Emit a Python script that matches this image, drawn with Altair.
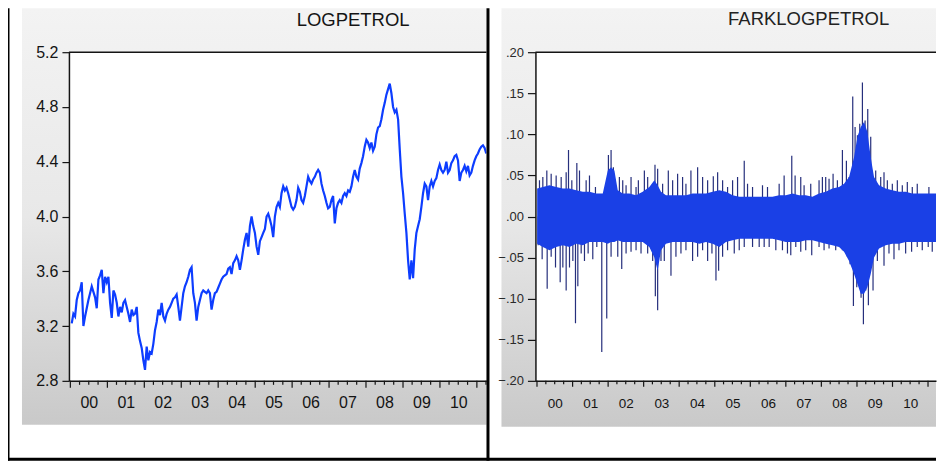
import altair as alt
import numpy as np
import pandas as pd

# ---------------- data ----------------
# LOGPETROL, one reading every ~16.5 days starting early January 2000
LOGPETROL = [
    3.22, 3.29, 3.27, 3.39, 3.44, 3.46, 3.52, 3.20, 3.27, 3.33,
    3.39, 3.44, 3.49, 3.45, 3.41, 3.33, 3.54, 3.57, 3.61, 3.44,
    3.56, 3.52, 3.56, 3.37, 3.26, 3.46, 3.43, 3.37, 3.27, 3.34,
    3.30, 3.37, 3.39, 3.34, 3.29, 3.23, 3.32, 3.28, 3.29, 3.34,
    3.15, 3.09, 3.04, 2.95, 2.88, 3.05, 2.95, 3.01, 3.00, 3.07,
    3.17, 3.23, 3.32, 3.28, 3.37, 3.27, 3.24, 3.29, 3.32, 3.34,
    3.37, 3.40, 3.41, 3.43, 3.34, 3.24, 3.34, 3.44, 3.49, 3.52,
    3.56, 3.61, 3.63, 3.44, 3.37, 3.24, 3.34, 3.39, 3.44, 3.46,
    3.45, 3.44, 3.46, 3.44, 3.32, 3.39, 3.44, 3.45, 3.48, 3.51,
    3.54, 3.56, 3.57, 3.58, 3.62, 3.63, 3.58, 3.66, 3.68, 3.71,
    3.68, 3.61, 3.68, 3.76, 3.83, 3.88, 3.78, 3.93, 4.00, 3.93,
    3.88, 3.78, 3.72, 3.82, 3.85, 3.88, 3.91, 4.00, 4.02, 3.98,
    3.93, 3.85, 4.00, 4.07, 4.10, 4.07, 4.17, 4.22, 4.19, 4.21,
    4.17, 4.12, 4.07, 4.05, 4.07, 4.12, 4.21, 4.18, 4.12, 4.10,
    4.15, 4.22, 4.29, 4.26, 4.24, 4.27, 4.29, 4.32, 4.34, 4.32,
    4.24, 4.19, 4.15, 4.10, 4.06, 4.07, 4.12, 4.15, 3.95, 4.06,
    4.10, 4.12, 4.10, 4.15, 4.17, 4.15, 4.19, 4.18, 4.22, 4.29,
    4.34, 4.29, 4.27, 4.35, 4.39, 4.44, 4.51, 4.56, 4.54, 4.50,
    4.54, 4.48, 4.51, 4.60, 4.65, 4.66, 4.71, 4.78, 4.83, 4.89,
    4.93, 4.97, 4.90, 4.80, 4.76, 4.78, 4.71, 4.49, 4.29, 4.17,
    4.02, 3.88, 3.68, 3.54, 3.68, 3.55, 3.76, 3.88, 3.93, 3.98,
    4.07, 4.17, 4.24, 4.22, 4.12, 4.22, 4.26, 4.22, 4.26, 4.28,
    4.34, 4.38, 4.34, 4.32, 4.34, 4.40, 4.32, 4.34, 4.39, 4.41,
    4.44, 4.45, 4.41, 4.26, 4.32, 4.34, 4.37, 4.33, 4.37, 4.30,
    4.32, 4.37, 4.41, 4.44, 4.46, 4.49, 4.51, 4.52, 4.50, 4.46,
]
LOG_FIRST_YEAR = 2000.037   # decimal year of the first reading
LOG_STEP_YEAR = 0.04505     # spacing of the readings, in years

# FARKLOGPETROL: envelope of the dense daily band
BAND_YEARS = [
    2000.005, 2000.164, 2000.351, 2000.538, 2000.726, 2000.913, 2001.100, 2001.287, 2001.475, 2001.662,
    2001.849, 2001.990, 2002.083, 2002.177, 2002.271, 2002.411, 2002.598, 2002.786, 2002.973, 2003.160,
    2003.301, 2003.394, 2003.488, 2003.628, 2003.816, 2004.003, 2004.190, 2004.377, 2004.565, 2004.752,
    2004.939, 2005.126, 2005.314, 2005.501, 2005.688, 2005.875, 2006.063, 2006.250, 2006.437, 2006.624,
    2006.812, 2006.999, 2007.186, 2007.373, 2007.560, 2007.748, 2007.935, 2008.122, 2008.310, 2008.497,
    2008.637, 2008.778, 2008.918, 2009.012, 2009.106, 2009.199, 2009.293, 2009.387, 2009.480, 2009.621,
    2009.808, 2009.995, 2010.183, 2010.370, 2010.557, 2010.744, 2010.931, 2011.119, 2011.306, 2011.447,
]
BAND_UPPER = [
    0.034, 0.036, 0.038, 0.036, 0.034, 0.034, 0.032, 0.030, 0.030, 0.028,
    0.028, 0.056, 0.060, 0.056, 0.032, 0.028, 0.028, 0.026, 0.030, 0.036,
    0.044, 0.038, 0.030, 0.026, 0.026, 0.026, 0.026, 0.028, 0.028, 0.028,
    0.030, 0.032, 0.030, 0.026, 0.024, 0.024, 0.024, 0.024, 0.024, 0.024,
    0.026, 0.026, 0.028, 0.026, 0.026, 0.024, 0.028, 0.030, 0.034, 0.036,
    0.040, 0.048, 0.072, 0.097, 0.109, 0.115, 0.103, 0.072, 0.048, 0.038,
    0.034, 0.032, 0.030, 0.030, 0.028, 0.028, 0.028, 0.028, 0.028, 0.028,
]
BAND_LOWER = [
    -0.033, -0.037, -0.041, -0.037, -0.035, -0.037, -0.033, -0.035, -0.031, -0.031,
    -0.031, -0.033, -0.031, -0.031, -0.029, -0.031, -0.031, -0.031, -0.031, -0.037,
    -0.050, -0.066, -0.041, -0.033, -0.031, -0.031, -0.031, -0.031, -0.033, -0.031,
    -0.033, -0.037, -0.031, -0.029, -0.027, -0.027, -0.027, -0.027, -0.027, -0.027,
    -0.029, -0.031, -0.031, -0.031, -0.029, -0.029, -0.031, -0.033, -0.035, -0.037,
    -0.043, -0.054, -0.070, -0.082, -0.094, -0.094, -0.086, -0.070, -0.050, -0.039,
    -0.035, -0.033, -0.033, -0.031, -0.031, -0.031, -0.031, -0.031, -0.031, -0.031,
]

# FARKLOGPETROL: individual spikes sticking out of the band
SPIKE_UP_YEARS = [
    2000.070, 2000.164, 2000.276, 2000.398, 2000.538, 2000.679, 2000.819, 2000.885, 2000.978, 2001.119,
    2001.194, 2001.381, 2001.475, 2001.643, 2002.008, 2002.083, 2002.148, 2002.317, 2002.411, 2002.505,
    2002.645, 2002.786, 2002.851, 2003.020, 2003.113, 2003.319, 2003.394, 2003.534, 2003.694, 2003.816,
    2003.956, 2004.096, 2004.190, 2004.330, 2004.518, 2004.658, 2004.799, 2004.958, 2005.080, 2005.220,
    2005.360, 2005.501, 2005.641, 2005.829, 2005.922, 2006.063, 2006.343, 2006.484, 2006.812, 2006.952,
    2007.167, 2007.261, 2007.420, 2007.514, 2007.701, 2007.935, 2008.029, 2008.122, 2008.216, 2008.329,
    2008.450, 2008.591, 2008.703, 2008.778, 2008.881, 2008.947, 2009.012, 2009.078, 2009.153, 2009.228,
    2009.303, 2009.387, 2009.527, 2009.668, 2009.761, 2009.855, 2009.995, 2010.136, 2010.276, 2010.417,
    2010.557, 2010.697, 2011.025, 2011.325, 2011.400,
]
SPIKE_UP_VALUES = [
    0.044, 0.048, 0.056, 0.052, 0.050, 0.048, 0.054, 0.081, 0.044, 0.065,
    0.056, 0.044, 0.050, 0.036, 0.075, 0.081, 0.060, 0.048, 0.044, 0.038,
    0.048, 0.036, 0.044, 0.056, 0.048, 0.063, 0.058, 0.040, 0.056, 0.044,
    0.052, 0.048, 0.040, 0.056, 0.060, 0.048, 0.044, 0.049, 0.054, 0.044,
    0.036, 0.044, 0.048, 0.068, 0.040, 0.036, 0.038, 0.036, 0.040, 0.050,
    0.074, 0.050, 0.048, 0.038, 0.040, 0.044, 0.048, 0.048, 0.046, 0.052,
    0.044, 0.081, 0.068, 0.048, 0.146, 0.109, 0.099, 0.113, 0.163, 0.117,
    0.131, 0.097, 0.056, 0.048, 0.054, 0.044, 0.040, 0.044, 0.038, 0.042,
    0.036, 0.040, 0.036, 0.082, 0.040,
]
SPIKE_DN_YEARS = [
    2000.033, 2000.145, 2000.286, 2000.398, 2000.520, 2000.651, 2000.726, 2000.819, 2000.913, 2001.007,
    2001.081, 2001.147, 2001.241, 2001.334, 2001.437, 2001.568, 2001.681, 2001.821, 2001.961, 2002.083,
    2002.271, 2002.383, 2002.505, 2002.645, 2002.786, 2002.926, 2003.113, 2003.254, 2003.329, 2003.394,
    2003.488, 2003.581, 2003.769, 2003.909, 2004.050, 2004.190, 2004.377, 2004.518, 2004.658, 2004.799,
    2004.920, 2005.033, 2005.108, 2005.220, 2005.360, 2005.548, 2005.688, 2005.829, 2006.063, 2006.250,
    2006.390, 2006.531, 2006.718, 2006.905, 2007.046, 2007.139, 2007.280, 2007.420, 2007.560, 2007.729,
    2007.935, 2008.076, 2008.216, 2008.403, 2008.591, 2008.731, 2008.806, 2008.900, 2008.994, 2009.040,
    2009.115, 2009.181, 2009.247, 2009.321, 2009.452, 2009.574, 2009.761, 2009.901, 2010.042, 2010.183,
    2010.370, 2010.538, 2010.697, 2010.838, 2011.006, 2011.119, 2011.259, 2011.400,
]
SPIKE_DN_VALUES = [
    -0.035, -0.052, -0.088, -0.049, -0.062, -0.080, -0.062, -0.090, -0.062, -0.054,
    -0.130, -0.085, -0.045, -0.054, -0.045, -0.052, -0.037, -0.165, -0.124, -0.049,
    -0.049, -0.064, -0.045, -0.043, -0.041, -0.045, -0.045, -0.054, -0.097, -0.114,
    -0.054, -0.054, -0.072, -0.049, -0.045, -0.041, -0.054, -0.049, -0.041, -0.054,
    -0.045, -0.078, -0.066, -0.049, -0.041, -0.045, -0.041, -0.037, -0.037, -0.037,
    -0.037, -0.037, -0.041, -0.041, -0.045, -0.047, -0.037, -0.043, -0.041, -0.047,
    -0.037, -0.041, -0.039, -0.041, -0.041, -0.049, -0.058, -0.109, -0.086, -0.074,
    -0.099, -0.131, -0.090, -0.108, -0.090, -0.054, -0.060, -0.045, -0.052, -0.041,
    -0.045, -0.043, -0.037, -0.041, -0.037, -0.043, -0.033, -0.039,
]

TITLES = ["LOGPETROL", "FARKLOGPETROL"]
YEAR_LABELS = list(range(2000, 2011))
LEFT_Y_TICKS = [2.8, 3.2, 3.6, 4.0, 4.4, 4.8, 5.2]
RIGHT_Y_TICKS = [-0.20, -0.15, -0.10, -0.05, 0.0, 0.05, 0.10, 0.15, 0.20]

# ---------------- helpers ----------------
FONT = "Liberation Sans"
INK = "#141414"


def to_ts(y):
    yi = int(np.floor(y))
    a = pd.Timestamp(year=yi, month=1, day=1)
    b = pd.Timestamp(year=yi + 1, month=1, day=1)
    return a + (b - a) * (y - yi)


log_df = pd.DataFrame({
    "date": [to_ts(LOG_FIRST_YEAR + i * LOG_STEP_YEAR) for i in range(len(LOGPETROL))],
    "value": LOGPETROL,
})
band_df = pd.DataFrame({
    "date": [to_ts(y) for y in BAND_YEARS],
    "upper": BAND_UPPER,
    "lower": BAND_LOWER,
})
spike_df = pd.DataFrame({
    "date": [to_ts(y) for y in SPIKE_UP_YEARS + SPIKE_DN_YEARS],
    "val": SPIKE_UP_VALUES + SPIKE_DN_VALUES,
})
spike_df["base"] = 0.0

quarters = pd.date_range("2000-01-01", "2011-01-01", freq="QS")
minor_df = pd.DataFrame({"date": quarters[quarters.month != 1]})
major_df = pd.DataFrame({"date": quarters[quarters.month == 1]})
l_extra = pd.DataFrame({"date": [pd.Timestamp("2011-04-01")]})
one = pd.DataFrame({"k": [0]})

LW, RW, H = 418, 401, 329
RIGHT_END = 868          # right edge of the page, in left-panel pixels
label_values = [alt.DateTime(year=y, month=7, date=2) for y in YEAR_LABELS]


def x_enc(domain, font_size, pad):
    return alt.X(
        "date:T",
        scale=alt.Scale(domain=domain),
        axis=alt.Axis(
            values=label_values, format="%y", ticks=False, labelPadding=pad,
            labelFontSize=font_size, labelFont=FONT, labelColor=INK,
            domainColor=INK, domainWidth=1.5, grid=False, title=None,
            labelFlush=False, labelOverlap=False, zindex=1,
        ),
    )


def box(x1, x2, y1, y2, **kw):
    return alt.Chart(one).mark_rect(strokeWidth=0, **kw).encode(
        x=alt.value(x1), x2=alt.value(x2), y=alt.value(y1), y2=alt.value(y2)
    )


def hline(x1, x2, y):
    return alt.Chart(one).mark_rule(color=INK, strokeWidth=1.5).encode(
        x=alt.value(x1), x2=alt.value(x2), y=alt.value(y)
    )


panel_grad = alt.Gradient(
    gradient="linear",
    stops=[
        alt.GradientStop(color="#f3f3f3", offset=0),
        alt.GradientStop(color="#e8e8e8", offset=0.5),
        alt.GradientStop(color="#c9c9c9", offset=1),
    ],
    x1=0, x2=0, y1=0, y2=1,
)

# ---------------- left panel ----------------
lx = x_enc([alt.DateTime(year=1999, month=12, date=18), alt.DateTime(year=2011, month=4, date=6)], 16, 14)

line = alt.Chart(log_df).mark_line(color="#0d3dff", strokeWidth=2.2, clip=True).encode(
    x=lx,
    y=alt.Y(
        "value:Q",
        scale=alt.Scale(domain=[2.8, 5.2], nice=False, zero=False),
        axis=alt.Axis(
            values=LEFT_Y_TICKS, format=".1f", tickSize=7, tickColor=INK, tickWidth=1.2,
            labelPadding=4, labelFontSize=16, labelFont=FONT, labelColor=INK,
            domainColor=INK, domainWidth=1.5, grid=False, title=None, zindex=1,
        ),
    ),
)

l_minor = alt.Chart(pd.concat([minor_df, l_extra])).mark_rule(color=INK, strokeWidth=1.2).encode(
    x=lx, y=alt.value(H), y2=alt.value(H + 4))
l_major = alt.Chart(major_df).mark_rule(color=INK, strokeWidth=1.2).encode(
    x=lx, y=alt.value(H), y2=alt.value(H + 7))
l_title = alt.Chart(one).mark_text(
    text=TITLES[0], font=FONT, fontSize=18.5, color=INK, align="center", baseline="alphabetic"
).encode(x=alt.value(284.5), y=alt.value(-26))

left = alt.layer(
    box(-61, RIGHT_END, -44, 409, color="white"),         # page background
    box(-47, LW, -44, 373, fill=panel_grad),              # left panel gray
    box(433, RIGHT_END, -44, 375, fill=panel_grad),       # right panel gray
    box(0, LW, 0, H, color="white"),                      # left plot area
    line,
    hline(0, LW, 0),
    box(LW, LW + 3, -44, 409, color="black"),             # divider
    box(-61, -59.5, -44, 409, color="black"),             # outer left edge
    box(-61, RIGHT_END, 406, 409, color="black"),         # outer bottom edge
    l_minor, l_major, l_title,
).properties(width=LW, height=H)

# ---------------- right panel ----------------
rx = x_enc([alt.DateTime(year=1999, month=12, date=16), alt.DateTime(year=2011, month=3, date=24)], 13.5, 16)
ry_scale = alt.Scale(domain=[-0.2, 0.2], nice=False, zero=False)
ry_axis = alt.Axis(
    values=RIGHT_Y_TICKS, labelExpr="replace(format(datum.value, '.2f'), '0.', '.')",
    tickSize=8, tickColor=INK, tickWidth=1.2, labelPadding=4, labelFontSize=13,
    labelFont=FONT, labelColor="#2a2a2a", domainColor=INK, domainWidth=1.5,
    grid=False, title=None, zindex=1,
)

spikes = alt.Chart(spike_df).mark_rule(color="#262f7c", strokeWidth=1.2, clip=True).encode(
    x=rx, y=alt.Y("val:Q", scale=ry_scale, axis=ry_axis), y2="base:Q")
band = alt.Chart(band_df).mark_area(color="#1a40e6", opacity=1, clip=True).encode(
    x=rx, y=alt.Y("upper:Q", scale=ry_scale, axis=ry_axis), y2="lower:Q")
r_minor = alt.Chart(minor_df).mark_rule(color=INK, strokeWidth=1.2).encode(
    x=rx, y=alt.value(H), y2=alt.value(H + 3.5))
r_major = alt.Chart(major_df).mark_rule(color=INK, strokeWidth=1.2).encode(
    x=rx, y=alt.value(H), y2=alt.value(H + 6))
r_title = alt.Chart(one).mark_text(
    text=TITLES[1], font=FONT, fontSize=18.5, color="#222222", align="center", baseline="alphabetic"
).encode(x=alt.value(273.5), y=alt.value(-27))

right = alt.layer(
    spikes, band, hline(0, RW, 0), r_minor, r_major, r_title,
).properties(width=RW, height=H)

chart = alt.hconcat(left, right, spacing=49, bounds="flush", padding=0).configure_view(
    strokeWidth=0, fill="white"
)

chart.save("out.html", embed_options={"renderer": "svg", "actions": False})
